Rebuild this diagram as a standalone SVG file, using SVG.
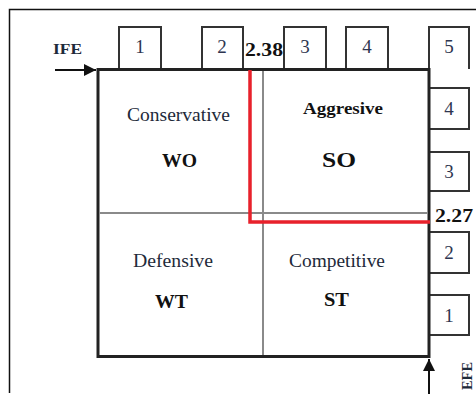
<svg xmlns="http://www.w3.org/2000/svg" width="476" height="394" viewBox="0 0 476 394">
  <style>
    .frame { fill: none; stroke: #111; stroke-width: 1.5; }
    .square { fill: #fff; stroke: #222; stroke-width: 3; }
    .divider { fill: none; stroke: #8a8a8a; stroke-width: 2; }
    .tab { fill: #fff; stroke: #333; stroke-width: 2; }
    .num { font-family: "Liberation Serif", serif; font-size: 19px; fill: #2e3550; text-anchor: middle; }
    .val { font-family: "Liberation Serif", serif; font-size: 18px; font-weight: bold; fill: #111; }
    .label { font-family: "Liberation Serif", serif; font-size: 18px; fill: #1e2a3a; text-anchor: middle; }
    .code { font-family: "Liberation Serif", serif; font-size: 18px; font-weight: bold; fill: #111; text-anchor: middle; }
    .axis { font-family: "Liberation Serif", serif; font-size: 15px; font-weight: bold; fill: #1e2a3a; text-anchor: middle; }
    .arrow { fill: none; stroke: #111; stroke-width: 2; }
    .path { fill: none; stroke: #e8212b; stroke-width: 3.5; }
  </style>
  <defs>
    <marker id="head" viewBox="0 0 10 10" refX="10" refY="5" markerWidth="6" markerHeight="6" markerUnits="strokeWidth" orient="auto">
      <path d="M0,0 L10,5 L0,10 Z" fill="#111"/>
    </marker>
  </defs>

  <rect width="476" height="394" fill="#fff"/>
  <!-- outer frame (top and left edges) -->
  <path class="frame" d="M9.5,393 V9.5 H476"/>

  <!-- IFE scale tabs along the top -->
  <g id="ife-1"><path class="tab" d="M119,69 V27 H161 V69"/><text class="num" x="140" y="53">1</text></g>
  <g id="ife-2"><path class="tab" d="M202,69 V27 H243 V69"/><text class="num" x="222" y="53">2</text></g>
  <g id="ife-3"><path class="tab" d="M284,69 V27 H326 V69"/><text class="num" x="305" y="53">3</text></g>
  <g id="ife-4"><path class="tab" d="M346,69 V27 H388 V69"/><text class="num" x="367" y="53">4</text></g>
  <g id="ife-5"><path class="tab" d="M429,69 V27 H469 V69"/><text class="num" x="449" y="53">5</text></g>

  <!-- EFE scale tabs along the right -->
  <g id="efe-4"><path class="tab" d="M429,88 H469 V129 H429"/><text class="num" x="449" y="115">4</text></g>
  <g id="efe-3"><path class="tab" d="M429,152 H469 V191 H429"/><text class="num" x="449" y="178">3</text></g>
  <g id="efe-2"><path class="tab" d="M429,232 H469 V273 H429"/><text class="num" x="449" y="259">2</text></g>
  <g id="efe-1"><path class="tab" d="M429,295 H469 V335 H429"/><text class="num" x="449" y="322">1</text></g>

  <!-- main square with quadrant dividers -->
  <g id="matrix">
    <rect class="square" x="98" y="69.5" width="331" height="287"/>
    <line class="divider" x1="263" y1="71" x2="263" y2="355"/>
    <line class="divider" x1="99.5" y1="213" x2="427.5" y2="213"/>
  </g>

  <g id="q-wo">
    <text class="label" x="178.5" y="121" textLength="103" lengthAdjust="spacingAndGlyphs">Conservative</text>
    <text class="code" x="179.5" y="167" textLength="35" lengthAdjust="spacingAndGlyphs">WO</text>
  </g>
  <g id="q-so">
    <text class="code" x="343" y="114" style="font-size:17px" textLength="80" lengthAdjust="spacingAndGlyphs">Aggresive</text>
    <text class="code" x="339" y="167" style="font-size:22px" textLength="34" lengthAdjust="spacingAndGlyphs">SO</text>
  </g>
  <g id="q-wt">
    <text class="label" x="173" y="267" textLength="80" lengthAdjust="spacingAndGlyphs">Defensive</text>
    <text class="code" x="171.5" y="308" textLength="33" lengthAdjust="spacingAndGlyphs">WT</text>
  </g>
  <g id="q-st">
    <text class="label" x="337" y="267" textLength="96" lengthAdjust="spacingAndGlyphs">Competitive</text>
    <text class="code" x="336.5" y="306" textLength="25" lengthAdjust="spacingAndGlyphs">ST</text>
  </g>

  <!-- axis titles and scores -->
  <g id="ife-axis">
    <text class="axis" x="67.5" y="54" textLength="29" lengthAdjust="spacingAndGlyphs">IFE</text>
  </g>
  <g id="efe-axis">
    <text class="axis" transform="translate(472,376) rotate(-90)" x="0" y="0" textLength="28" lengthAdjust="spacingAndGlyphs">EFE</text>
  </g>
  <g id="ife-score"><text class="val" x="245" y="56" textLength="38" lengthAdjust="spacingAndGlyphs">2.38</text></g>
  <g id="efe-score"><text class="val" x="435" y="222" textLength="38" lengthAdjust="spacingAndGlyphs">2.27</text></g>

  <!-- connectors: axis arrows and the position path -->
  <g id="connectors">
    <line class="arrow" x1="55" y1="70" x2="96" y2="70" marker-end="url(#head)"/>
    <line class="arrow" x1="429" y1="394" x2="429" y2="359" marker-end="url(#head)"/>
    <path class="path" d="M250,70 V222 H430"/>
  </g>
</svg>
